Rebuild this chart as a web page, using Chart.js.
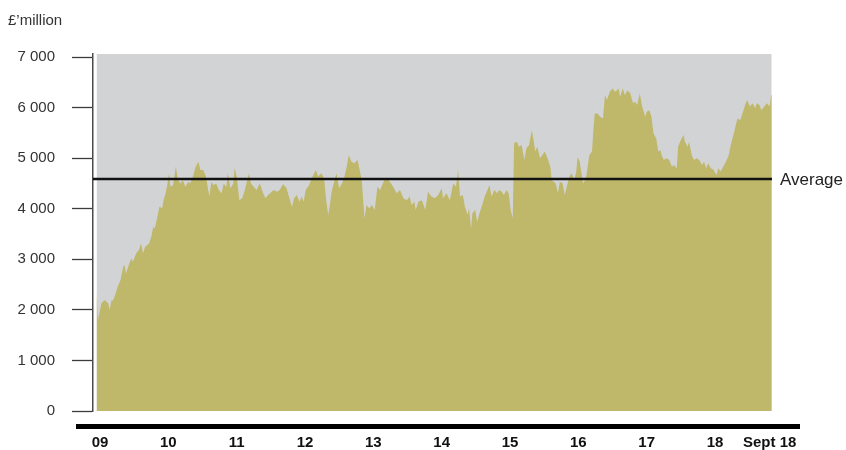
<!DOCTYPE html>
<html>
<head>
<meta charset="utf-8">
<script src="https://cdn.jsdelivr.net/npm/chart.js@4"></script>
<style>
  html, body { margin: 0; padding: 0; background: #fff; }
</style>
</head>
<body>
<canvas id="chart" width="846" height="450"></canvas>
<script>
// Dates as fractional years, values in £ million
const years = [
    2008.95, 2008.97, 2009.02, 2009.07, 2009.12, 2009.14, 2009.17, 2009.19, 2009.23, 2009.26,
    2009.30, 2009.34, 2009.36, 2009.38, 2009.43, 2009.46, 2009.48, 2009.53, 2009.57, 2009.60,
    2009.63, 2009.66, 2009.69, 2009.72, 2009.75, 2009.78, 2009.80, 2009.83, 2009.87, 2009.91,
    2009.93, 2009.96, 2009.98, 2010.01, 2010.03, 2010.07, 2010.11, 2010.14, 2010.18, 2010.21,
    2010.25, 2010.29, 2010.32, 2010.36, 2010.40, 2010.44, 2010.47, 2010.51, 2010.55, 2010.60,
    2010.63, 2010.66, 2010.70, 2010.74, 2010.78, 2010.81, 2010.85, 2010.87, 2010.91, 2010.95,
    2010.97, 2011.00, 2011.04, 2011.08, 2011.12, 2011.15, 2011.18, 2011.21, 2011.25, 2011.29,
    2011.34, 2011.38, 2011.42, 2011.46, 2011.49, 2011.54, 2011.59, 2011.63, 2011.68, 2011.73,
    2011.78, 2011.81, 2011.84, 2011.88, 2011.92, 2011.95, 2011.98, 2012.01, 2012.06, 2012.11,
    2012.16, 2012.19, 2012.24, 2012.28, 2012.31, 2012.34, 2012.37, 2012.39, 2012.42, 2012.46,
    2012.50, 2012.54, 2012.57, 2012.61, 2012.64, 2012.68, 2012.72, 2012.77, 2012.81, 2012.83,
    2012.87, 2012.90, 2012.94, 2012.98, 2013.02, 2013.06, 2013.10, 2013.14, 2013.17, 2013.22,
    2013.26, 2013.30, 2013.34, 2013.39, 2013.44, 2013.49, 2013.53, 2013.56, 2013.60, 2013.62,
    2013.66, 2013.71, 2013.76, 2013.80, 2013.85, 2013.90, 2013.95, 2014.00, 2014.02, 2014.07,
    2014.12, 2014.15, 2014.17, 2014.21, 2014.24, 2014.27, 2014.31, 2014.34, 2014.38, 2014.40,
    2014.43, 2014.45, 2014.49, 2014.52, 2014.56, 2014.60, 2014.63, 2014.67, 2014.70, 2014.73,
    2014.77, 2014.81, 2014.84, 2014.88, 2014.91, 2014.95, 2014.98, 2015.01, 2015.04, 2015.06,
    2015.10, 2015.13, 2015.17, 2015.21, 2015.24, 2015.28, 2015.32, 2015.34, 2015.37, 2015.40,
    2015.44, 2015.47, 2015.51, 2015.55, 2015.59, 2015.61, 2015.64, 2015.67, 2015.70, 2015.73,
    2015.77, 2015.80, 2015.83, 2015.87, 2015.90, 2015.94, 2015.97, 2015.99, 2016.02, 2016.05,
    2016.07, 2016.10, 2016.12, 2016.16, 2016.20, 2016.22, 2016.24, 2016.28, 2016.32, 2016.36,
    2016.39, 2016.42, 2016.46, 2016.50, 2016.54, 2016.59, 2016.61, 2016.65, 2016.68, 2016.72,
    2016.76, 2016.80, 2016.83, 2016.86, 2016.90, 2016.93, 2016.95, 2016.98, 2017.00, 2017.04,
    2017.07, 2017.10, 2017.14, 2017.17, 2017.20, 2017.22, 2017.25, 2017.29, 2017.33, 2017.37,
    2017.40, 2017.44, 2017.46, 2017.50, 2017.54, 2017.56, 2017.60, 2017.62, 2017.66, 2017.69,
    2017.73, 2017.77, 2017.81, 2017.84, 2017.87, 2017.90, 2017.94, 2017.98, 2018.02, 2018.05,
    2018.08, 2018.12, 2018.16, 2018.20, 2018.23, 2018.27, 2018.31, 2018.33, 2018.37, 2018.41,
    2018.44, 2018.47, 2018.51, 2018.55, 2018.59, 2018.61, 2018.65, 2018.68, 2018.72, 2018.76,
    2018.80, 2018.82, 2018.83
];
const values = [
    2360, 1800, 2130, 2195, 2130, 2000, 2195, 2180, 2330, 2460,
    2590, 2855, 2885, 2720, 2920, 3020, 2950, 3120, 3185, 3315,
    3120, 3250, 3280, 3315, 3445, 3645, 3610, 3775, 4040, 4010,
    4170, 4305, 4435, 4700, 4435, 4470, 4830, 4570, 4500, 4570,
    4435, 4535, 4500, 4635, 4830, 4930, 4765, 4765, 4635, 4240,
    4535, 4470, 4500, 4370, 4305, 4500, 4435, 4700, 4405, 4500,
    4800, 4635, 4170, 4205, 4370, 4535, 4700, 4500, 4435, 4370,
    4500, 4335, 4205, 4270, 4305, 4370, 4335, 4370, 4490, 4405,
    4170, 4040, 4205, 4270, 4140, 4240, 4140, 4370, 4470, 4635,
    4765, 4635, 4700, 4600, 4170, 3875, 4140, 4335, 4500, 4700,
    4405, 4500, 4600, 4830, 5060, 4930, 4900, 4965, 4700, 4570,
    3810, 4075, 4010, 4075, 3975, 4435, 4370, 4500, 4600, 4570,
    4500, 4405, 4305, 4370, 4205, 4170, 4240, 4075, 4140, 3975,
    4140, 4170, 3975, 4335, 4240, 4205, 4270, 4405, 4205, 4305,
    4170, 4370, 4500, 4435, 4765, 4240, 4270, 4040, 3875, 4010,
    3610, 3910, 3975, 3745, 3940, 4105, 4240, 4370, 4470, 4240,
    4370, 4305, 4370, 4335, 4270, 4370, 4305, 3975, 3810, 5295,
    5325, 5225, 5260, 4965, 5195, 5260, 5555, 5390, 5130, 5225,
    5000, 5060, 5130, 5000, 4830, 4570, 4535, 4500, 4305, 4535,
    4500, 4270, 4435, 4635, 4700, 4570, 4735, 5030, 4930, 4665,
    4500, 4570, 4665, 5060, 5130, 5555, 5885, 5885, 5820, 5785,
    6250, 6150, 6315, 6380, 6315, 6380, 6215, 6380, 6250, 6345,
    6280, 6085, 6115, 6050, 6280, 6050, 5950, 5820, 5920, 5950,
    5820, 5490, 5390, 5130, 5160, 5060, 4965, 5000, 4965, 4830,
    4865, 4800, 5225, 5360, 5460, 5325, 5225, 5325, 5060, 4965,
    5000, 4965, 4865, 4930, 4800, 4900, 4800, 4765, 4665, 4800,
    4735, 4830, 4930, 5060, 5260, 5460, 5690, 5785, 5755, 5920,
    6050, 6150, 6020, 6085, 5985, 6085, 6050, 5950, 6020, 6085,
    6020, 6250, 6280
];
const average = 4590;

const yTicks = [0, 1000, 2000, 3000, 4000, 5000, 6000, 7000];
const xTickYears = [2009, 2010, 2011, 2012, 2013, 2014, 2015, 2016, 2017, 2018, 2018.8];
const xTickLabels = ['09', '10', '11', '12', '13', '14', '15', '16', '17', '18', 'Sept 18'];

const xMin = 2008.8976, xMax = 2018.834, yMax = 7060;
const FONT = "'Liberation Sans', Arial, Helvetica, sans-serif";

function fmtThousands(v) {
    return String(v).replace(/\B(?=(\d{3})+(?!\d))/g, ' ');
}

// Average label and the heavy bar under the plot
const extras = {
    id: 'extras',
    afterDraw(chart) {
        const { ctx, chartArea, scales } = chart;
        ctx.save();
        ctx.fillStyle = '#000';
        ctx.fillRect(chartArea.left - 17, chartArea.bottom + 13, chartArea.right - chartArea.left + 45, 5);

        const y = scales.y.getPixelForValue(average);
        ctx.font = '17px ' + FONT;
        ctx.fillStyle = '#222';
        ctx.textAlign = 'left';
        ctx.textBaseline = 'middle';
        ctx.fillText('Average', chartArea.right + 8, y + 1);
        ctx.restore();
    }
};

const ctx = document.getElementById('chart').getContext('2d');
new Chart(ctx, {
    type: 'line',
    data: {
        datasets: [
            {
                label: 'Average',
                data: [{ x: xMin, y: average }, { x: xMax, y: average }],
                borderColor: '#111',
                borderWidth: 2.5,
                pointRadius: 0,
                fill: false,
                order: 0
            },
            {
                label: 'Value',
                data: years.map((yr, i) => ({ x: yr, y: values[i] })),
                borderColor: 'rgba(0,0,0,0)',
                borderWidth: 0,
                backgroundColor: '#bfb86b',
                pointRadius: 0,
                tension: 0,
                fill: 'origin',
                order: 1
            },
            {
                label: 'Background',
                data: [{ x: years[0], y: yMax }, { x: years[years.length - 1], y: yMax }],
                borderColor: 'rgba(0,0,0,0)',
                borderWidth: 0,
                backgroundColor: '#d2d3d5',
                pointRadius: 0,
                fill: 'origin',
                order: 2
            }
        ]
    },
    options: {
        responsive: false,
        animation: false,
        layout: { padding: { left: 8, right: 74, top: 0, bottom: 0 } },
        plugins: {
            legend: { display: false },
            tooltip: { enabled: false },
            title: {
                display: true,
                text: '£\u2019million',
                align: 'start',
                color: '#333',
                font: { family: FONT, size: 15, weight: 'normal' },
                padding: { top: 12, bottom: 24 }
            }
        },
        scales: {
            x: {
                type: 'linear',
                min: xMin,
                max: xMax,
                grid: { display: false, drawTicks: false },
                border: { display: false },
                afterBuildTicks: (scale) => {
                    scale.ticks = xTickYears.map(v => ({ value: v }));
                },
                afterFit: (scale) => { scale.height = 39; },
                ticks: {
                    autoSkip: false,
                    maxRotation: 0,
                    padding: 23,
                    color: '#111',
                    font: { family: FONT, size: 15, weight: 'bold' },
                    callback: (v, i) => xTickLabels[i]
                }
            },
            y: {
                min: 0,
                max: yMax,
                afterBuildTicks: (scale) => {
                    scale.ticks = yTicks.map(v => ({ value: v }));
                },
                afterFit: (scale) => { scale.width = 85; },
                grid: {
                    drawOnChartArea: false,
                    drawTicks: true,
                    tickLength: 21,
                    tickColor: '#3c3c3c',
                    tickWidth: 1.3
                },
                border: { display: true, color: '#4a4a4a', width: 1.5 },
                ticks: {
                    padding: 17,
                    color: '#333',
                    font: { family: FONT, size: 15 },
                    callback: (v) => fmtThousands(v)
                }
            }
        }
    },
    plugins: [extras]
});
</script>
</body>
</html>
